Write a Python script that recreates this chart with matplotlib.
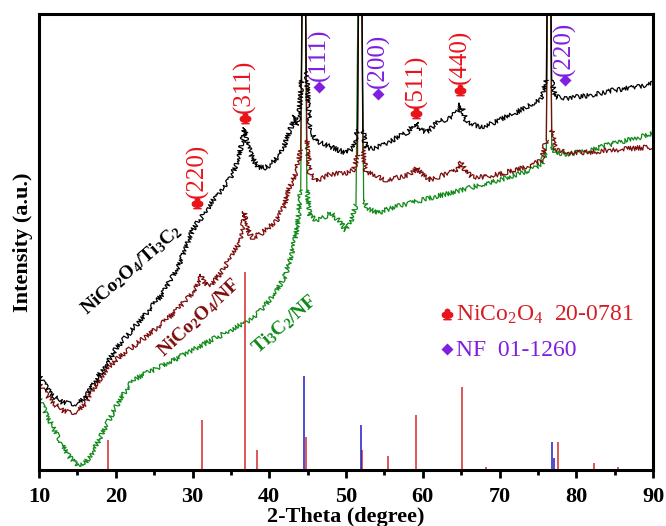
import matplotlib
matplotlib.use("Agg")
import matplotlib.pyplot as plt
import numpy as np
from matplotlib.ticker import MultipleLocator

plt.rcParams['font.family'] = ['Liberation Serif', 'DejaVu Sans']
plt.rcParams['mathtext.default'] = 'regular'

# ---------------- data (y = intensity, arbitrary units) -------------
x_black = [10, 11, 12, 13, 14, 15, 16, 17, 18, 19, 20, 22, 24, 26, 28, 30, 31, 32, 33, 34, 35, 36,
           36.5, 36.8, 37.2, 37.8, 38.5, 39.5, 40.5, 41.5, 42.5, 43.3, 43.8, 44.2, 44.5, 44.8, 45.3,
           46, 47, 48, 49, 50, 51, 51.5, 51.85, 52.2, 52.6, 53.5, 55, 56.5, 58, 58.8, 59.2, 59.7,
           60.5, 62, 63.5, 64.5, 65, 65.6, 66.5, 68, 70, 72, 74, 75.5, 76.1, 76.45, 76.8, 77.3,
           79, 82, 85, 88, 90]
y_black = [95, 82, 73, 68, 66, 66, 72, 85, 97, 108, 121, 139, 157, 175, 201, 240, 251, 262, 273,
           282, 292, 312, 330, 342, 325, 312, 303, 302, 308, 316, 335, 354, 345, 390, 700, 400, 343,
           330, 326, 323, 320, 317, 323, 340, 700, 340, 322, 322, 325, 332, 338, 345, 348, 340,
           338, 348, 352, 358, 366, 350, 345, 343, 350, 357, 365, 372, 390, 700, 390, 373,
           372, 375, 380, 383, 387]

x_red = [10, 11, 12, 13, 14, 15, 16, 17, 18, 19, 20, 22, 24, 26, 28, 30, 30.8, 31.2, 31.7, 32.5,
         34, 35, 36, 36.5, 36.8, 37.2, 37.8, 39, 40, 41, 42, 42.5, 43.5, 44.1, 44.5, 44.9, 45.3,
         46, 47, 48, 50, 51, 51.5, 51.85, 52.2, 52.6, 54, 55, 57, 58.5, 59.2, 60, 61, 63, 64.5,
         65, 65.6, 66.5, 68, 70, 72, 74, 75.5, 76.1, 76.45, 76.8, 77.3, 79, 82, 85, 88, 90]
y_red = [87, 75, 66, 60, 57, 58, 66, 80, 92, 102, 110, 122, 134, 146, 160, 177, 188, 195, 185, 186,
         200, 215, 225, 240, 258, 240, 232, 237, 243, 250, 265, 280, 297, 320, 700, 330, 297,
         290, 292, 296, 297, 300, 315, 700, 320, 298, 295, 290, 293, 296, 302, 295, 290, 296, 300,
         308, 298, 293, 293, 296, 300, 304, 310, 330, 700, 340, 320, 317, 318, 320, 322, 323]

x_green = [10, 11, 12, 13, 14, 15, 16, 17, 18, 19, 20, 21, 22, 23, 24, 25, 27, 30, 33, 35, 37, 38,
           39, 40, 41, 42, 42.7, 43.2, 43.7, 44.1, 44.5, 44.9, 45.3, 46, 47, 48, 49, 50, 50.7,
           51.3, 51.85, 52.3, 52.8, 54, 56, 58, 60, 62, 65, 68, 70, 72, 74, 75.5, 76.1, 76.45,
           76.8, 77.3, 79, 82, 85, 88, 90]
y_green = [73, 55, 40, 25, 13, 5, 7, 18, 33, 48, 63, 76, 87, 93, 97, 100, 108, 120, 132, 140, 148,
           153, 160, 170, 180, 193, 210, 225, 245, 280, 700, 280, 255, 250, 252, 257, 250, 240,
           250, 265, 700, 270, 262, 257, 262, 266, 270, 274, 280, 286, 290, 295, 300, 306, 320,
           700, 325, 317, 316, 320, 327, 332, 337]

# reference patterns (stick positions and relative heights)
nico_pos = [18.95, 31.2, 36.84, 38.45, 44.75, 52.05, 55.5, 59.16, 65.07, 68.3, 77.6, 82.3, 85.4]
nico_h = [30, 50, 198, 20, 33, 20, 14, 55, 83, 3, 28, 7, 3]
nf_pos = [44.57, 51.95, 76.88, 77.08]
nf_h = [94, 45, 28, 12]

# peak annotations: x, height of the symbol, height where the (hkl) text starts
nico_hkl = ['(220)', '(311)', '(511)', '(440)']
nico_hkl_x = [30.6, 36.8, 59.1, 64.85]
nico_sym_y = [267, 352, 357, 380]
nico_txt_y = [272, 357, 362, 386]
nf_hkl = ['(111)', '(200)', '(220)']
nf_hkl_x = [46.5, 54.2, 78.5]
nf_sym_y = [383, 376, 390]
nf_txt_y = [389, 382, 394]

# ---------------- style ----------------
C_BLACK = '#000000'
C_DRED = '#7d0c0c'
C_GREEN = '#0f8a18'
C_RED = '#e8141b'
C_PURPLE = '#7f1fe0'
C_STICK_R = '#d42a2a'
C_STICK_B = '#1c1cc4'
CLUB = r'$\clubsuit$'

fig = plt.figure(figsize=(6.66, 5.26), dpi=100)
ax = fig.add_axes([39 / 666, 1 - 470 / 526, 614 / 666, 456 / 526])

for xs, ys, c in [(x_green, y_green, C_GREEN), (x_red, y_red, C_DRED), (x_black, y_black, C_BLACK)]:
    xs = np.asarray(xs, float)
    ys = np.asarray(ys, float)
    top = ys >= 600
    # noisy baseline: everything except the very tall reflections
    yb = ys.copy()
    yb[top] = np.nan
    ln, = ax.plot(xs, yb, color=c, lw=0.9)
    ln.set_sketch_params(scale=2.4, length=1.0, randomness=2)
    # the tall, sharp reflections drawn as clean thin lines
    for i in np.where(top)[0]:
        ax.plot(xs[i - 1:i + 2], ys[i - 1:i + 2], color=c, lw=0.9)

ax.vlines(nico_pos, 0, nico_h, color=C_STICK_R, lw=1.1)
ax.vlines(nf_pos, 0, nf_h, color=C_STICK_B, lw=1.1)

ax.plot(nico_hkl_x, nico_sym_y, ls='none', marker=CLUB, ms=7.5, color=C_RED)
ax.plot(nf_hkl_x, nf_sym_y, ls='none', marker='D', ms=6.5, color=C_PURPLE, mec='none')
for lab, xv, yt in zip(nico_hkl, nico_hkl_x, nico_txt_y):
    ax.text(xv, yt, lab, color=C_RED, fontsize=18, rotation=90, ha='center', va='bottom')
for lab, xv, yt in zip(nf_hkl, nf_hkl_x, nf_txt_y):
    ax.text(xv, yt, lab, color=C_PURPLE, fontsize=18, rotation=90, ha='center', va='bottom')

ax.text(22.05, 200, r'NiCo$_2$O$_4$/Ti$_3$C$_2$', color=C_BLACK, fontsize=14, fontweight='bold',
        rotation=41, ha='center', va='center', rotation_mode='anchor')
ax.text(30.9, 152, r'NiCo$_2$O$_4$/NF', color=C_DRED, fontsize=14, fontweight='bold',
        rotation=43, ha='center', va='center', rotation_mode='anchor')
ax.text(42.05, 146, r'Ti$_3$C$_2$/NF', color=C_GREEN, fontsize=14, fontweight='bold',
        rotation=41, ha='center', va='center', rotation_mode='anchor')

ax.plot([63.2], [156], ls='none', marker=CLUB, ms=7.5, color=C_RED)
ax.text(64.3, 155, r'NiCo$_2$O$_4$  20-0781', color='#d41e26', fontsize=17, ha='left', va='center')
ax.plot([63.2], [121], ls='none', marker='D', ms=6, color=C_PURPLE, mec='none')
ax.text(64.3, 120, 'NF  01-1260', color=C_PURPLE, fontsize=17, ha='left', va='center')

ax.set_xlim(10, 90)
ax.set_ylim(0, 456)
ax.set_yticks([])
ax.xaxis.set_major_locator(MultipleLocator(10))
ax.xaxis.set_minor_locator(MultipleLocator(5))
ax.tick_params(axis='x', which='major', direction='out', length=6, width=2, pad=6,
               labelsize=16)
ax.tick_params(axis='x', which='minor', direction='out', length=3.5, width=2)
for lab in ax.get_xticklabels():
    lab.set_fontweight('bold')
for s in ax.spines.values():
    s.set_linewidth(2.2)

ax.set_xlabel('2-Theta (degree)', fontsize=16, fontweight='bold', labelpad=0)
ax.set_ylabel('Intensity (a.u.)', fontsize=16, fontweight='bold', labelpad=4)

fig.savefig('out.png', dpi=100)
